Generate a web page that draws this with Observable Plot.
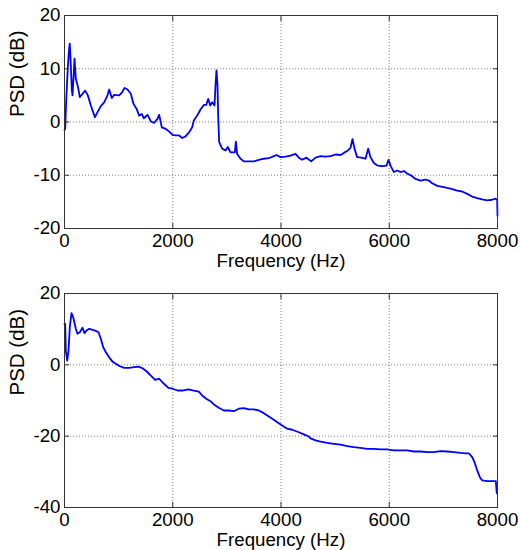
<!DOCTYPE html>
<html>
<head>
<meta charset="utf-8">
<script src="https://cdn.jsdelivr.net/npm/d3@7"></script>
<script src="https://cdn.jsdelivr.net/npm/@observablehq/plot@0.6"></script>
<style>
  body { margin: 0; background: #fff; }
  #chart { width: 520px; height: 550px; }
  #chart svg { display: block; }
</style>
</head>
<body>
<div id="chart"></div>
<script>
// ---- Data ----
const xTicks = [0, 2000, 4000, 6000, 8000];
const yTicksTop = [-20, -10, 0, 10, 20];
const yTicksBottom = [-40, -20, 0, 20];
const xLabel = "Frequency (Hz)";
const yLabel = "PSD (dB)";

const freqTop = [0,13,30,60,85,98,115,135,148,170,185,200,209,234,260,283,333,382,431,487,561,610,671,733,794,825,874,918,1010,1059,1109,1164,1225,1275,1330,1380,1429,1466,1534,1595,1657,1718,1749,1798,1872,1934,1995,2051,2112,2174,2236,2297,2359,2389,2451,2513,2574,2618,2655,2692,2729,2771,2790,2808,2827,2839,2858,2913,2975,3017,3067,3147,3166,3190,3252,3314,3406,3498,3590,3683,3775,3868,3917,3991,4083,4176,4268,4329,4391,4471,4558,4638,4730,4822,4915,5007,5100,5161,5235,5284,5321,5358,5407,5481,5561,5611,5653,5715,5789,5869,5949,5986,6023,6085,6146,6208,6270,6331,6405,6485,6577,6670,6731,6793,6885,7008,7132,7255,7347,7440,7532,7625,7717,7809,7902,7963,7994,8000];
const psdTop = [-1.5,-1.3,3.7,10,13.7,14.7,11,6,5.0,9,11.9,9.5,8.1,7.2,6.0,4.66,5.3,5.9,5.0,3.1,0.9,1.84,2.97,3.7,5.0,6.1,4.5,5.1,5.0,5.5,6.4,6.1,5.3,3.4,2.5,1.2,1.5,0.7,1.35,0.1,-0.15,0.6,1.35,-1.0,-1.3,-1.8,-2.4,-2.5,-2.5,-3.0,-2.7,-2.0,-1.0,0.28,1.2,2.35,3.2,3.2,4.35,3.1,3.7,3.1,6.85,9.7,6.85,1.2,-3.8,-5.0,-5.35,-4.7,-5.7,-5.7,-3.7,-6.0,-6.9,-7.4,-7.4,-7.4,-7.1,-6.9,-6.8,-6.4,-6.2,-6.6,-6.5,-6.3,-6.0,-6.7,-7.1,-6.7,-7.4,-6.7,-6.4,-6.5,-6.4,-6.1,-6.2,-5.8,-5.35,-4.85,-3.2,-5.0,-6.6,-6.7,-6.9,-5.0,-6.6,-7.7,-8.2,-8.3,-8.2,-7.1,-8.2,-9.4,-9.1,-9.4,-9.2,-9.7,-10.05,-10.7,-11.0,-10.8,-11.0,-11.5,-12.0,-12.25,-12.5,-12.9,-13.05,-13.5,-14.0,-14.3,-14.55,-14.7,-14.6,-14.4,-14.6,-17.6];

const freqBottom = [0,13,24,50,74,98,129,160,209,240,283,333,370,406,456,505,567,628,671,715,764,825,887,948,1022,1103,1195,1287,1367,1441,1515,1595,1675,1749,1811,1872,1921,1995,2088,2180,2291,2389,2481,2544,2618,2697,2759,2851,2943,3035,3128,3220,3313,3405,3497,3590,3682,3775,3867,3959,4022,4114,4207,4329,4421,4514,4545,4638,4730,4853,4976,5100,5223,5345,5469,5592,5715,5838,5962,6084,6208,6331,6454,6577,6701,6823,6947,7071,7193,7317,7409,7470,7532,7575,7625,7674,7717,7809,7902,7969,7987];
const psdBottom = [11.5,11.5,4.0,1.2,4.0,10.55,14.5,13.4,10.1,8.7,9.15,10.4,8.9,9.6,10.1,9.9,9.6,9.15,7.3,4.95,3.5,2.1,0.9,0.3,-0.4,-0.85,-0.85,-0.65,-0.5,-0.95,-1.8,-3.0,-4.2,-3.9,-4.9,-5.8,-6.45,-6.7,-7.2,-7.2,-6.9,-7.2,-7.5,-8.6,-9.5,-10.2,-11.1,-12.05,-12.8,-12.8,-13.0,-12.3,-12.15,-12.5,-12.5,-12.8,-13.55,-14.5,-15.4,-16.35,-17.0,-17.9,-18.2,-18.9,-19.5,-20.1,-20.6,-21.2,-21.5,-21.9,-22.15,-22.4,-22.8,-23.1,-23.3,-23.55,-23.55,-23.7,-23.7,-24.0,-24.0,-24.0,-24.3,-24.3,-24.5,-24.5,-24.2,-24.3,-24.5,-24.7,-24.8,-24.8,-25.9,-27.3,-29.6,-31.5,-32.4,-32.6,-32.6,-32.6,-36.0];

// ---- Drawing ----
const fmt = d => String(d);
const gridStyle = {stroke: "#000", strokeOpacity: 0.5, strokeDasharray: "1,2"};

function panel({freq, psd, yDomain, yTicks, height, marginTop, marginBottom}) {
  const data = freq.map((f, i) => ({f, p: psd[i]}));
  return Plot.plot({
    width: 520,
    height,
    marginLeft: 64,
    marginRight: 23,
    marginTop,
    marginBottom,
    style: {fontFamily: "'Liberation Sans', Arial, Helvetica, sans-serif", fontSize: "18.7px", color: "#000", background: "#fff", overflow: "visible"},
    x: {domain: [0, 8000], ticks: xTicks},
    y: {domain: yDomain, ticks: yTicks},
    marks: [
      Plot.gridX(xTicks, gridStyle),
      Plot.gridY(yTicks, gridStyle),
      Plot.line(data, {x: "f", y: "p", stroke: "#0000ff", strokeWidth: 1.8}),
      Plot.frame({stroke: "#333"}),
      Plot.axisX(xTicks, {anchor: "bottom", tickSize: -5, tickPadding: 10, tickFormat: fmt, label: null, stroke: "#333"}),
      Plot.axisX(xTicks, {anchor: "top", tickSize: -5, tickFormat: () => "", label: null, stroke: "#333"}),
      Plot.axisY(yTicks, {anchor: "left", tickSize: -5, tickPadding: 9, tickFormat: fmt, label: null, stroke: "#333"}),
      Plot.axisY(yTicks, {anchor: "right", tickSize: -5, tickFormat: () => "", label: null, stroke: "#333"}),
      Plot.text([xLabel], {text: d => d, frameAnchor: "bottom", dy: 25, lineAnchor: "top", fontSize: 18.7, fill: "#000"}),
      Plot.text([yLabel], {text: d => d, frameAnchor: "left", dx: -47, dy: -5, rotate: -90, fontSize: 20.5, fill: "#000"})
    ]
  });
}

const chart = document.getElementById("chart");
chart.append(panel({freq: freqTop, psd: psdTop, yDomain: [-20, 20], yTicks: yTicksTop, height: 275, marginTop: 15, marginBottom: 47}));
chart.append(panel({freq: freqBottom, psd: psdBottom, yDomain: [-40, 20], yTicks: yTicksBottom, height: 275, marginTop: 18, marginBottom: 43}));
</script>
</body>
</html>
